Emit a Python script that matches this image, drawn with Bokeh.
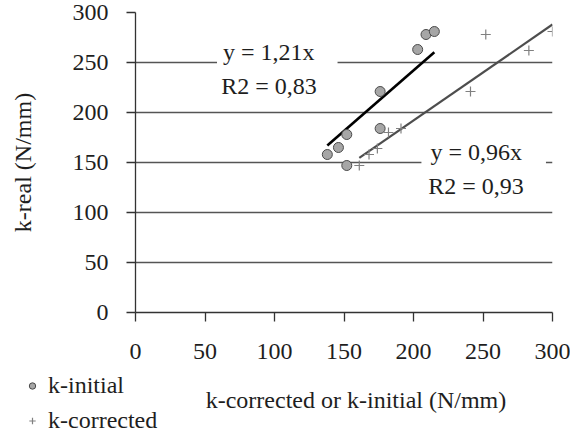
from bokeh.plotting import figure
from bokeh.layouts import column
from bokeh.models import Label, Legend, LegendItem, FixedTicker, Range1d
from bokeh.embed import file_html
from bokeh.resources import INLINE
import numpy as np

# data
k_initial_x = [138, 146, 152, 152, 176, 176, 203, 209, 215]
k_initial_y = [158, 165, 178, 147, 221, 184, 263, 278, 281]
k_corrected_x = [161, 168, 174, 182, 191, 241, 252, 283, 300]
k_corrected_y = [147, 158, 164, 180, 184, 221, 278, 262, 281]
fit_initial_slope = 1.21
fit_initial_xrange = [138, 215]
fit_corrected_slope = 0.96
fit_corrected_xrange = [161, 300]
ticks = [0, 50, 100, 150, 200, 250, 300]
series_names = ["k-initial", "k-corrected"]
x_title = "k-corrected or k-initial (N/mm)"
y_title = "k-real (N/mm)"

FONT = "Liberation Serif"
FS = "24px"
TXT = "#1e1e1e"
CIRCLE = dict(marker="circle", size=10, fill_color="#a6a6a6", line_color="#4a4a4a", line_width=1)
CROSS = dict(marker="cross", size=10, line_color="#808080", line_width=1.2)

# ---------------- main chart ----------------
p = figure(width=570, height=371, output_backend="svg", toolbar_location=None,
           x_range=Range1d(0, 300), y_range=Range1d(0, 300),
           min_border_left=135, min_border_right=18, min_border_top=12, min_border_bottom=59)
p.frame_align = False
p.outline_line_color = None
p.background_fill_color = "white"
p.border_fill_color = "white"

p.xgrid.grid_line_color = None
p.ygrid.grid_line_color = "#555555"
p.ygrid.grid_line_width = 1.3
p.ygrid.ticker = FixedTicker(ticks=ticks)

for ax in (p.xaxis[0], p.yaxis[0]):
    ax.ticker = FixedTicker(ticks=ticks)
    ax.axis_line_color = "#333333"
    ax.axis_line_width = 1.3
    ax.major_tick_line_color = "#333333"
    ax.major_tick_line_width = 1.3
    ax.minor_tick_line_color = None
    ax.major_tick_in = 0
    ax.major_tick_out = 9
    ax.major_label_text_font = FONT
    ax.major_label_text_font_size = FS
    ax.major_label_text_color = TXT
    ax.axis_label_text_font = FONT
    ax.axis_label_text_font_size = FS
    ax.axis_label_text_font_style = "normal"
    ax.axis_label_text_color = TXT

p.yaxis.axis_label = y_title
p.xaxis.major_label_standoff = 22
p.yaxis.major_label_standoff = 18
p.yaxis.axis_label_standoff = 34

# trend lines
xi = np.array(fit_initial_xrange, dtype=float)
xc = np.array(fit_corrected_xrange, dtype=float)
p.line(xi, fit_initial_slope * xi, line_color="black", line_width=2.6)
p.line(xc, fit_corrected_slope * xc, line_color="#4d4d4d", line_width=2.2)

# scatter
p.scatter(k_initial_x, k_initial_y, **CIRCLE)
p.scatter(k_corrected_x, k_corrected_y, **CROSS)

# equation labels (white box interrupts the gridline)
def lab(x, y, t, pad=None):
    kw = dict(x=x, y=y, text=t, text_font=FONT, text_font_size=FS,
              text_color=TXT, text_align="center", text_baseline="middle")
    if pad:
        kw.update(background_fill_color="white",
                  padding=dict(left=pad[0], right=pad[1], top=0, bottom=0))
    p.add_layout(Label(**kw))

lab(102, 261, "y = 1,21x", (6, 23))
lab(96, 227, "R2 = 0,83")
lab(250.5, 161, "y = 0,96x", (9, 24))
lab(245, 127, "R2 = 0,93")

# ---------------- bottom strip: legend + x-axis title ----------------
p2 = figure(width=570, height=62, output_backend="svg", toolbar_location=None,
            x_axis_location=None, y_axis_location=None,
            x_range=Range1d(0, 1), y_range=Range1d(0, 1), min_border=0)
p2.frame_align = False
p2.outline_line_color = None
p2.grid.visible = False
p2.background_fill_color = "white"
p2.border_fill_color = "white"

# legend renderers (same data; they fall outside this strip's ranges)
r_init = p2.scatter(k_initial_x, k_initial_y, **CIRCLE)
r_corr = p2.scatter(k_corrected_x, k_corrected_y, **CROSS)

legend = Legend(items=[LegendItem(label=series_names[0], renderers=[r_init]),
                       LegendItem(label=series_names[1], renderers=[r_corr])],
                location=(24, -2), orientation="vertical")
legend.label_text_font = FONT
legend.label_text_font_size = FS
legend.label_text_color = TXT
legend.border_line_color = None
legend.background_fill_alpha = 0
legend.padding = 0
legend.margin = 0
legend.spacing = 5
legend.glyph_width = 16
legend.glyph_height = 21
legend.label_height = 30
legend.label_standoff = 8
p2.add_layout(legend)

p2.add_layout(Label(x=355.5, y=34, x_units="screen", y_units="screen", text=x_title,
                    text_font=FONT, text_font_size=FS, text_color=TXT,
                    text_align="center", text_baseline="middle"))

layout = column(p, p2, spacing=0)
open("out.html", "w").write(file_html(layout, INLINE))
